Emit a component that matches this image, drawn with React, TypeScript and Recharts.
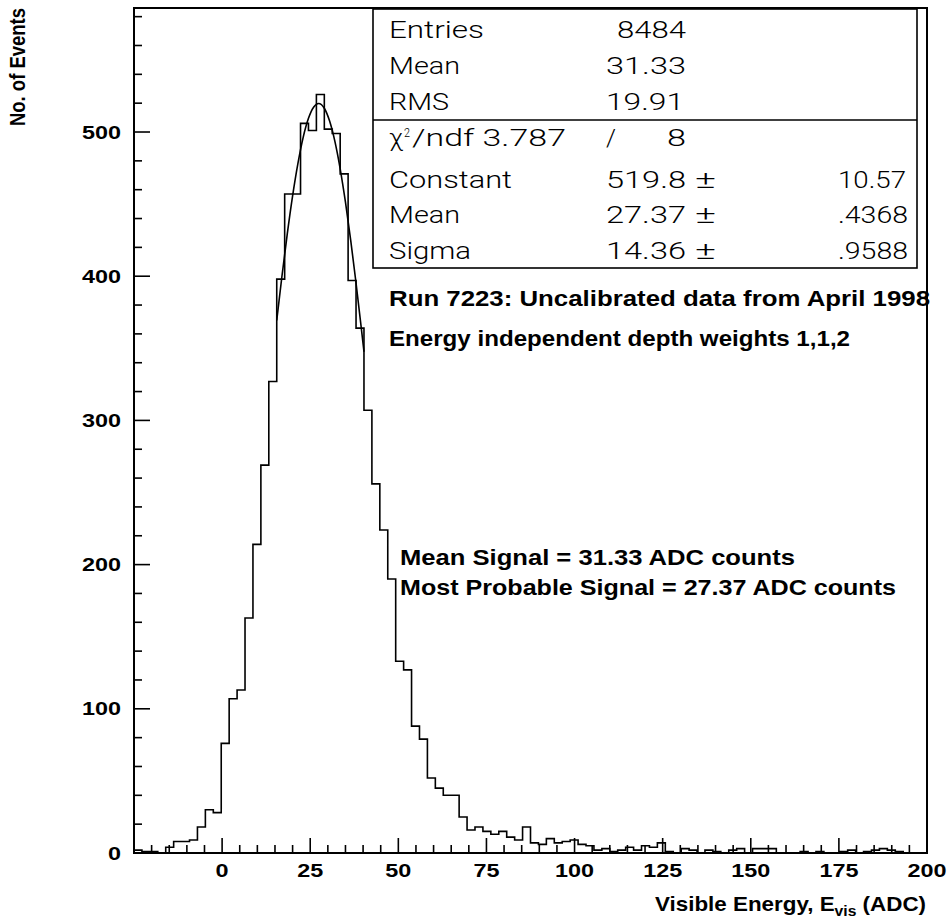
import React from 'react';
import { ComposedChart, Line, XAxis, YAxis, ReferenceArea } from 'recharts';

// Histogram: 100 bins from -25 to 200
const BIN_LOW = -25;
const BIN_WIDTH = 2.25;
const binCounts = [
  2, 1, 1, 0, 4, 8, 8, 9, 18, 30,
  28, 76, 107, 113, 163, 214, 269, 327, 398, 457,
  457, 506, 501, 526, 502, 499, 471, 397, 364, 307,
  256, 224, 190, 133, 127, 88, 79, 52, 45, 40,
  40, 25, 16, 18, 15, 13, 15, 11, 9, 18,
  7, 6, 10, 7, 8, 9, 6, 5, 2, 3,
  1, 2, 4, 2, 5, 4, 7, 1, 0, 3,
  2, 0, 2, 1, 0, 2, 3, 0, 3, 3,
  3, 0, 0, 0, 1, 0, 1, 0, 0, 1,
  2, 0, 1, 2, 3, 2, 1, 0, 0, 0,
];

// Gaussian fit curve (Constant 519.8, Mean 27.37, Sigma 14.36) sampled over fit range
const fitX = [15.5, 17, 18.5, 20, 21.5, 23, 24.5, 26, 27.37, 29, 30.5, 32, 33.5, 35, 36.5, 38, 39.5, 40.25];
const fitY = [369.4, 400.5, 429.5, 455.7, 478.1, 496.3, 509.5, 517.4, 519.8, 516.5, 507.6, 493.5, 474.5, 451.3, 424.7, 395.3, 363.8, 347.6];

const xTicks = [-20, -15, -10, -5, 0, 5, 10, 15, 20, 25, 30, 35, 40, 45, 50, 55, 60, 65, 70, 75, 80, 85, 90, 95, 100, 105, 110, 115, 120, 125, 130, 135, 140, 145, 150, 155, 160, 165, 170, 175, 180, 185, 190, 195, 200];
const xMajorLabels = [0, 25, 50, 75, 100, 125, 150, 175, 200];
const yTicks = [0, 20, 40, 60, 80, 100, 120, 140, 160, 180, 200, 220, 240, 260, 280, 300, 320, 340, 360, 380, 400, 420, 440, 460, 480, 500, 520, 540, 560, 580];
const yMajorLabels = [0, 100, 200, 300, 400, 500];

const X_DOMAIN: [number, number] = [-25, 200];
const Y_DOMAIN: [number, number] = [0, 586];

const BOLD = "'Liberation Sans', Arial, Helvetica, sans-serif";
const THIN = "Roboto, 'Open Sans', sans-serif";

const W = 948;
const H = 920;

function XTick(props: any) {
  const { x, y, payload } = props;
  const v = payload.value;
  const major = xMajorLabels.includes(v);
  return (
    <g>
      <line x1={x} y1={y} x2={x} y2={y - (major ? 15 : 8)} stroke="#000" strokeWidth={1.6} />
      {major && (
        <text
          transform={`translate(${x},${y + 24}) scale(1.3,1)`}
          textAnchor="middle"
          fontFamily={BOLD}
          fontWeight="bold"
          fontSize={18}
          fill="#000"
        >
          {v}
        </text>
      )}
    </g>
  );
}

function YTick(props: any) {
  const { x, y, payload } = props;
  const v = payload.value;
  const major = yMajorLabels.includes(v);
  return (
    <g>
      <line x1={x} y1={y} x2={x + (major ? 16 : 8)} y2={y} stroke="#000" strokeWidth={1.6} />
      {major && (
        <text
          transform={`translate(${x - 13},${y + 6.5}) scale(1.3,1)`}
          textAnchor="end"
          fontFamily={BOLD}
          fontWeight="bold"
          fontSize={18}
          fill="#000"
        >
          {v}
        </text>
      )}
    </g>
  );
}

function T(p: { x: number; y: number; len: number; children: React.ReactNode; size?: number; bold?: boolean }) {
  return (
    <text
      x={p.x}
      y={p.y}
      textLength={p.len}
      lengthAdjust="spacingAndGlyphs"
      fontFamily={p.bold ? BOLD : THIN}
      fontWeight={p.bold ? 'bold' : 300}
      fontSize={p.size ?? 23}
      fill="#000"
    >
      {p.children}
    </text>
  );
}

export default function App() {
  const histData = binCounts.map((c, i) => ({ x: BIN_LOW + i * BIN_WIDTH, y: c }));
  histData.push({ x: BIN_LOW + binCounts.length * BIN_WIDTH, y: binCounts[binCounts.length - 1] });
  const fitData = fitX.map((x, i) => ({ x, y: fitY[i] }));

  const rows = [38, 74, 110, 146, 188, 223, 259];

  return (
    <div style={{ position: 'absolute', left: 0, top: 0, width: W, height: H, background: '#fff' }}>
      <ComposedChart width={W} height={H} margin={{ top: 8, right: 21, bottom: 0, left: 0 }}>
        <XAxis
          type="number"
          dataKey="x"
          domain={X_DOMAIN}
          ticks={xTicks}
          interval={0}
          allowDataOverflow
          height={67}
          tickSize={0}
          tickMargin={0}
          tickLine={false}
          axisLine={{ stroke: '#000', strokeWidth: 2 }}
          tick={(p: any) => <XTick {...p} />}
        />
        <YAxis
          type="number"
          domain={Y_DOMAIN}
          ticks={yTicks}
          interval={0}
          allowDataOverflow
          width={134}
          tickSize={0}
          tickMargin={0}
          tickLine={false}
          axisLine={{ stroke: '#000', strokeWidth: 2 }}
          tick={(p: any) => <YTick {...p} />}
        />
        <ReferenceArea
          x1={X_DOMAIN[0]}
          x2={X_DOMAIN[1]}
          y1={Y_DOMAIN[0]}
          y2={Y_DOMAIN[1]}
          fill="none"
          fillOpacity={0}
          stroke="#000"
          strokeWidth={2}
          ifOverflow="visible"
        />
        <Line
          data={histData}
          dataKey="y"
          type="stepAfter"
          stroke="#000"
          strokeWidth={1.6}
          dot={false}
          activeDot={false}
          isAnimationActive={false}
        />
        <Line
          data={fitData}
          dataKey="y"
          type="monotone"
          stroke="#000"
          strokeWidth={1.6}
          dot={false}
          activeDot={false}
          isAnimationActive={false}
        />
      </ComposedChart>
      <svg
        width={W}
        height={H}
        style={{ position: 'absolute', left: 0, top: 0, pointerEvents: 'none' }}
      >
        {/* Y axis title */}
        <g transform="translate(25,67) scale(1.2,1)">
          <text
            transform="rotate(-90)"
            textAnchor="middle"
            fontFamily={BOLD}
            fontWeight="bold"
            fontSize={18.5}
            fill="#000"
          >
            No. of Events
          </text>
        </g>
        {/* X axis title */}
        <g transform="translate(926,911) scale(1.12,1)">
          <text textAnchor="end" fontFamily={BOLD} fontWeight="bold" fontSize={20} fill="#000">
            Visible Energy, E
            <tspan fontSize={14} dy={5}>vis</tspan>
            <tspan dy={-5}> (ADC)</tspan>
          </text>
        </g>
        {/* Stats box */}
        <rect x={373} y={9} width={544} height={259} fill="#fff" stroke="#000" strokeWidth={1.6} />
        <line x1={373} y1={120} x2={917} y2={120} stroke="#000" strokeWidth={1.6} />
        <T x={389} y={rows[0]} len={95}>Entries</T>
        <T x={617} y={rows[0]} len={69}>8484</T>
        <T x={389} y={rows[1]} len={71}>Mean</T>
        <T x={606} y={rows[1]} len={80}>31.33</T>
        <T x={389} y={rows[2]} len={60}>RMS</T>
        <T x={606} y={rows[2]} len={78}>19.91</T>
        <T x={389} y={rows[3]} len={14}>χ</T>
        <T x={404} y={rows[3] - 9} len={6} size={13}>2</T>
        <T x={412} y={rows[3]} len={154}>/ndf 3.787</T>
        <T x={606} y={rows[3]} len={10}>/</T>
        <T x={667} y={rows[3]} len={19}>8</T>
        <T x={389} y={rows[4]} len={123}>Constant</T>
        <T x={606} y={rows[4]} len={80}>519.8</T>
        <T x={695} y={rows[4]} len={21}>±</T>
        <T x={838} y={rows[4]} len={68}>10.57</T>
        <T x={389} y={rows[5]} len={71}>Mean</T>
        <T x={606} y={rows[5]} len={80}>27.37</T>
        <T x={695} y={rows[5]} len={21}>±</T>
        <T x={838} y={rows[5]} len={70}>.4368</T>
        <T x={389} y={rows[6]} len={82}>Sigma</T>
        <T x={606} y={rows[6]} len={80}>14.36</T>
        <T x={695} y={rows[6]} len={21}>±</T>
        <T x={838} y={rows[6]} len={70}>.9588</T>
        {/* Annotations */}
        <T x={389} y={306} len={541} size={22} bold>Run 7223: Uncalibrated data from April 1998</T>
        <T x={389} y={346} len={461} size={22} bold>Energy independent depth weights 1,1,2</T>
        <T x={400} y={565} len={395} size={22} bold>Mean Signal = 31.33 ADC counts</T>
        <T x={400} y={595} len={496} size={22} bold>Most Probable Signal = 27.37 ADC counts</T>
      </svg>
    </div>
  );
}
